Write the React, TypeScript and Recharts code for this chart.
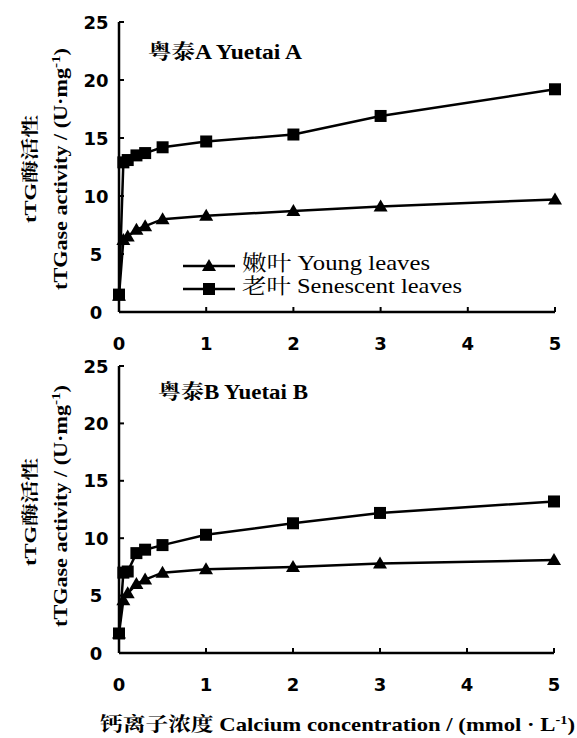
import React from 'react';
import { LineChart, Line, XAxis, YAxis, Legend } from 'recharts';

const concentrations = [0, 0.05, 0.1, 0.2, 0.3, 0.5, 1, 2, 3, 5];
const youngA = [1.4, 6.2, 6.5, 7.1, 7.4, 8.0, 8.3, 8.7, 9.1, 9.7];
const senescentA = [1.5, 12.9, 13.1, 13.5, 13.7, 14.2, 14.7, 15.3, 16.9, 19.2];
const youngB = [1.7, 4.6, 5.2, 6.0, 6.4, 7.0, 7.3, 7.5, 7.8, 8.1];
const senescentB = [1.7, 7.0, 7.1, 8.7, 9.0, 9.4, 10.3, 11.3, 12.2, 13.2];
const xTicks = [0, 1, 2, 3, 4, 5];
const yTicks = [0, 5, 10, 15, 20, 25];
const seriesNames = ['嫩叶 Young leaves', '老叶 Senescent leaves'];
const panelTitles = ['粤泰A Yuetai A', '粤泰B Yuetai B'];
const yLabelCn = 'tTG酶活性';
const yLabelEn = 'tTGase activity / (U·mg';
const xLabel = '钙离子浓度 Calcium concentration / (mmol · L';

const buildRows = (young: number[], sen: number[]) =>
  concentrations.map((c, i) => ({ c, young: young[i], senescent: sen[i] }));

const rowsA = buildRows(youngA, senescentA);
const rowsB = buildRows(youngB, senescentB);

const SERIF = "'Liberation Serif', 'Noto Serif CJK SC', 'Noto Sans CJK SC', serif";
const SANS = "'DejaVu Sans', 'Liberation Sans', sans-serif";

const XTick = (props: any) => {
  const { x, y, payload } = props;
  return (
    <g>
      <line x1={x} x2={x} y1={y} y2={y - 5} stroke="#000" strokeWidth={2} />
      <text x={x} y={y + 38} textAnchor="middle" fontFamily={SANS} fontWeight="bold" fontSize={18} fill="#000">
        {payload.value}
      </text>
    </g>
  );
};

const YTick = (props: any) => {
  const { x, y, payload } = props;
  return (
    <g>
      <line x1={x} x2={x + 5} y1={y} y2={y} stroke="#000" strokeWidth={2} />
      <text x={x - 23} y={y + 6.5} textAnchor="middle" fontFamily={SANS} fontWeight="bold" fontSize={18} fill="#000">
        {payload.value}
      </text>
    </g>
  );
};

const SquareDot = (props: any) => {
  const { cx, cy } = props;
  if (cx == null || cy == null) return <g key={props.key} />;
  return <rect key={props.key} x={cx - 6} y={cy - 6} width={12} height={12} fill="#000" />;
};

const TriangleDot = (props: any) => {
  const { cx, cy } = props;
  if (cx == null || cy == null) return <g key={props.key} />;
  return <polygon key={props.key} points={`${cx},${cy - 7} ${cx - 7},${cy + 5} ${cx + 7},${cy + 5}`} fill="#000" />;
};

const YLabels = ({ cy1, cy2 }: { cy1: number; cy2: number }) => (
  <g>
    <text
      transform={`translate(30,${cy1}) rotate(-90)`}
      x={0}
      y={0}
      dy="0.35em"
      textAnchor="middle"
      fontFamily={SERIF}
      fontWeight="bold"
      fontSize={17}
      textLength={108}
      lengthAdjust="spacingAndGlyphs"
      fill="#000"
    >
      {yLabelCn}
    </text>
    <text
      transform={`translate(60,${cy2}) rotate(-90)`}
      x={0}
      y={0}
      dy="0.35em"
      textAnchor="middle"
      fontFamily={SERIF}
      fontWeight="bold"
      fontSize={19}
      textLength={242}
      lengthAdjust="spacingAndGlyphs"
      fill="#000"
    >
      {yLabelEn}
      <tspan dy={-7} fontSize={13}>-1</tspan>
      <tspan dy={7}>)</tspan>
    </text>
  </g>
);

const LegendContent = () => (
  <svg width={300} height={50} style={{ display: 'block', overflow: 'visible' }}>
    <line x1={0} x2={52} y1={14} y2={14} stroke="#000" strokeWidth={2.5} />
    <polygon points="26,7 19,19 33,19" fill="#000" />
    <text x={59} y={18} fontFamily={SERIF} fontSize={21} textLength={188} lengthAdjust="spacingAndGlyphs" fill="#000">
      {seriesNames[0]}
    </text>
    <line x1={0} x2={52} y1={37} y2={37} stroke="#000" strokeWidth={2.5} />
    <rect x={20} y={31} width={12} height={12} fill="#000" />
    <text x={59} y={41} fontFamily={SERIF} fontSize={21} textLength={220} lengthAdjust="spacingAndGlyphs" fill="#000">
      {seriesNames[1]}
    </text>
  </svg>
);

const axisProps = { stroke: '#000', strokeWidth: 2.5 };

export default function App() {
  return (
    <div style={{ position: 'absolute', left: 0, top: 0, width: 577, height: 738, background: '#fff' }}>
      <div style={{ position: 'absolute', left: 0, top: 0 }}>
        <LineChart width={577} height={360} data={rowsA} margin={{ top: 22, right: 22, bottom: 38, left: 69 }}>
          <XAxis
            dataKey="c"
            type="number"
            domain={[0, 5]}
            ticks={xTicks}
            height={10}
            tickSize={0}
            tickMargin={0}
            tickLine={false}
            axisLine={axisProps}
            tick={<XTick />}
            interval={0}
          />
          <YAxis
            type="number"
            domain={[0, 25]}
            ticks={yTicks}
            width={50}
            tickSize={0}
            tickMargin={0}
            tickLine={false}
            axisLine={axisProps}
            tick={<YTick />}
            interval={0}
          />
          <Legend
            layout="vertical"
            align="center"
            verticalAlign="middle"
            wrapperStyle={{ position: 'absolute', left: 183, top: 252, width: 300, height: 50 }}
            content={<LegendContent />}
          />
          <Line
            dataKey="young"
            name={seriesNames[0]}
            type="linear"
            stroke="#000"
            strokeWidth={2.5}
            dot={(p: any) => <TriangleDot {...p} key={`ta-${p.index}`} />}
            isAnimationActive={false}
          />
          <Line
            dataKey="senescent"
            name={seriesNames[1]}
            type="linear"
            stroke="#000"
            strokeWidth={2.5}
            dot={(p: any) => <SquareDot {...p} key={`sa-${p.index}`} />}
            isAnimationActive={false}
          />
          <text x={148} y={59} fontFamily={SERIF} fontWeight="bold" fontSize={20} textLength={154} lengthAdjust="spacingAndGlyphs" fill="#000">
            {panelTitles[0]}
          </text>
          <YLabels cy1={169} cy2={169} />
        </LineChart>
      </div>
      <div style={{ position: 'absolute', left: 0, top: 350 }}>
        <LineChart width={577} height={388} data={rowsB} margin={{ top: 16, right: 23, bottom: 75, left: 69 }}>
          <XAxis
            dataKey="c"
            type="number"
            domain={[0, 5]}
            ticks={xTicks}
            height={10}
            tickSize={0}
            tickMargin={0}
            tickLine={false}
            axisLine={axisProps}
            tick={<XTick />}
            interval={0}
          />
          <YAxis
            type="number"
            domain={[0, 25]}
            ticks={yTicks}
            width={50}
            tickSize={0}
            tickMargin={0}
            tickLine={false}
            axisLine={axisProps}
            tick={<YTick />}
            interval={0}
          />
          <Line
            dataKey="young"
            name={seriesNames[0]}
            type="linear"
            stroke="#000"
            strokeWidth={2.5}
            dot={(p: any) => <TriangleDot {...p} key={`tb-${p.index}`} />}
            isAnimationActive={false}
          />
          <Line
            dataKey="senescent"
            name={seriesNames[1]}
            type="linear"
            stroke="#000"
            strokeWidth={2.5}
            dot={(p: any) => <SquareDot {...p} key={`sb-${p.index}`} />}
            isAnimationActive={false}
          />
          <text x={158} y={49} fontFamily={SERIF} fontWeight="bold" fontSize={20} textLength={150} lengthAdjust="spacingAndGlyphs" fill="#000">
            {panelTitles[1]}
          </text>
          <YLabels cy1={162} cy2={156} />
          <text x={100} y={381} fontFamily={SERIF} fontWeight="bold" fontSize={19} textLength={475} lengthAdjust="spacingAndGlyphs" fill="#000">
            {xLabel}
            <tspan dy={-7} fontSize={12}>-1</tspan>
            <tspan dy={7}>)</tspan>
          </text>
        </LineChart>
      </div>
    </div>
  );
}
